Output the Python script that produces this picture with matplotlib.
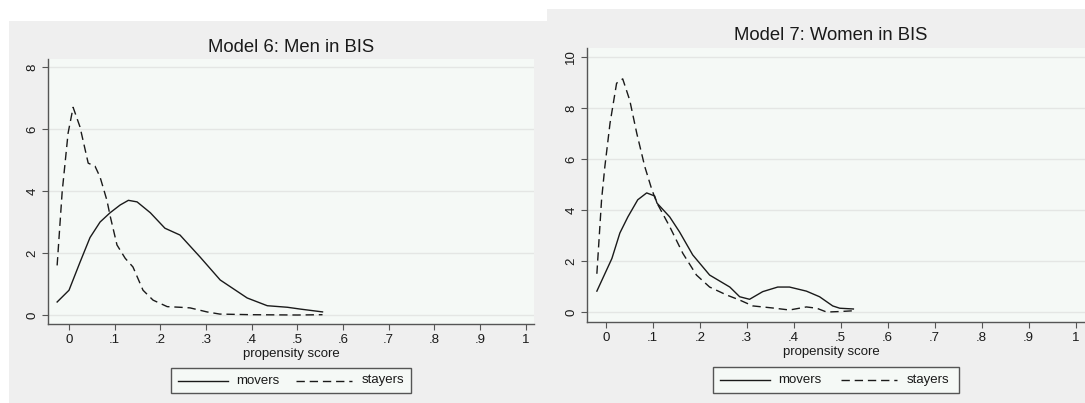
import matplotlib
matplotlib.use("Agg")
import matplotlib.pyplot as plt
from matplotlib.patches import Rectangle
from matplotlib.lines import Line2D

# Kernel density estimates of the propensity score, read as (score, density)
men_movers_x = [-0.026, 0.0, 0.024, 0.046, 0.068, 0.09, 0.112, 0.13, 0.149, 0.178,
                0.21, 0.243, 0.287, 0.331, 0.39, 0.434, 0.478, 0.507, 0.555]
men_movers_y = [0.42, 0.8, 1.7, 2.5, 3.0, 3.3, 3.55, 3.7, 3.65, 3.3,
                2.8, 2.58, 1.87, 1.13, 0.55, 0.3, 0.25, 0.19, 0.1]

men_stayers_x = [-0.026, -0.015, -0.002, 0.009, 0.024, 0.042, 0.057, 0.068, 0.083,
                 0.09, 0.105, 0.123, 0.14, 0.162, 0.184, 0.215, 0.243, 0.265,
                 0.302, 0.33, 0.4, 0.5, 0.555]
men_stayers_y = [1.6, 3.97, 5.87, 6.7, 6.07, 4.9, 4.8, 4.45, 3.7,
                 3.2, 2.26, 1.83, 1.55, 0.8, 0.48, 0.27, 0.25, 0.23,
                 0.1, 0.03, 0.01, 0.0, 0.01]

women_movers_x = [-0.019, 0.013, 0.03, 0.047, 0.068, 0.087, 0.104, 0.109, 0.136,
                  0.157, 0.185, 0.221, 0.264, 0.285, 0.306, 0.334, 0.366, 0.391,
                  0.427, 0.455, 0.483, 0.498, 0.527]
women_movers_y = [0.82, 2.1, 3.1, 3.73, 4.4, 4.67, 4.55, 4.27, 3.73,
                  3.14, 2.24, 1.45, 0.98, 0.6, 0.5, 0.8, 0.98, 0.98,
                  0.82, 0.6, 0.24, 0.15, 0.12]

women_stayers_x = [-0.019, -0.009, -0.002, 0.009, 0.023, 0.036, 0.051, 0.066, 0.083,
                   0.098, 0.109, 0.136, 0.164, 0.193, 0.221, 0.257, 0.285, 0.313,
                   0.355, 0.391, 0.427, 0.449, 0.47, 0.498, 0.527]
women_stayers_y = [1.5, 4.4, 5.7, 7.4, 8.97, 9.14, 8.3, 7.0, 5.7,
                   4.8, 4.27, 3.35, 2.3, 1.45, 0.98, 0.67, 0.47, 0.24,
                   0.16, 0.08, 0.2, 0.15, 0.0, 0.02, 0.05]

x_ticks = [0, 0.1, 0.2, 0.3, 0.4, 0.5, 0.6, 0.7, 0.8, 0.9, 1.0]
x_tick_labels = ["0", ".1", ".2", ".3", ".4", ".5", ".6", ".7", ".8", ".9", "1"]
men_y_ticks = [0, 2, 4, 6, 8]
women_y_ticks = [0, 2, 4, 6, 8, 10]
titles = ["Model 6: Men in BIS", "Model 7: Women in BIS"]
series_labels = ["movers", "stayers"]
x_title = "propensity score"

W, H = 1085, 403
plt.rcParams["font.family"] = ["Liberation Sans", "DejaVu Sans"]

fig = plt.figure(figsize=(W / 100, H / 100), dpi=100)
fig.patch.set_facecolor("white")

PANEL_BG = "#efefef"
PLOT_BG = "#f5f9f6"
GRID = "#e4e6e4"
AXIS = "#555555"
INK = "#1a1a1a"


def fbox(x0, y0, x1, y1):
    """Pixel box (top-left origin) to figure fraction rect."""
    return [x0 / W, 1 - y1 / H, (x1 - x0) / W, (y1 - y0) / H]


# panel backgrounds, kept beneath the axes
for (x0, y0, x1, y1) in [(9, 21, 547, 403), (547, 9, 1085, 403)]:
    r = fbox(x0, y0, x1, y1)
    fig.patches.append(Rectangle((r[0], r[1]), r[2], r[3], transform=fig.transFigure,
                                 facecolor=PANEL_BG, edgecolor="none", zorder=-10))

panels = [
    dict(box=(48, 59, 534, 324), xlim=(-0.046, 1.018), ylim=(-0.29, 8.26),
         yticks=men_y_ticks, title=titles[0], title_y=47, xlab_y=354, xc=291,
         leg=(171, 368, 411, 393),
         mx=men_movers_x, my=men_movers_y, sx=men_stayers_x, sy=men_stayers_y),
    dict(box=(587, 48, 1085, 322), xlim=(-0.04, 1.02), ylim=(-0.39, 10.35),
         yticks=women_y_ticks, title=titles[1], title_y=35, xlab_y=352, xc=831,
         leg=(713, 367, 959, 393),
         mx=women_movers_x, my=women_movers_y, sx=women_stayers_x, sy=women_stayers_y),
]

for p in panels:
    ax = fig.add_axes(fbox(*p["box"]))
    ax.set_facecolor(PLOT_BG)
    ax.set_xlim(*p["xlim"])
    ax.set_ylim(*p["ylim"])
    ax.set_xticks(x_ticks)
    ax.set_xticklabels(x_tick_labels, fontsize=9.5, color=INK)
    ax.set_yticks(p["yticks"])
    ax.set_yticklabels([str(v) for v in p["yticks"]], fontsize=9.5, color=INK,
                       rotation=90, va="center")
    ax.tick_params(axis="both", length=4, width=0.8, color=AXIS, pad=3)
    for s in ["top", "right"]:
        ax.spines[s].set_visible(False)
    for s in ["left", "bottom"]:
        ax.spines[s].set_color(AXIS)
        ax.spines[s].set_linewidth(1.0)
    ax.grid(axis="y", color=GRID, linewidth=1.0)
    ax.set_axisbelow(True)

    ax.plot(p["mx"], p["my"], color=INK, lw=1.0, solid_joinstyle="round")
    ax.plot(p["sx"], p["sy"], color=INK, lw=1.0, linestyle=(0, (6, 3.5)))

    fig.text(p["xc"] / W, 1 - p["title_y"] / H, p["title"], fontsize=13.3,
             color=INK, ha="center", va="center")
    fig.text(p["xc"] / W, 1 - p["xlab_y"] / H, x_title, fontsize=9.5,
             color=INK, ha="center", va="center")

    # legend frame and keys
    lx0, ly0, lx1, ly1 = p["leg"]
    r = fbox(lx0, ly0, lx1, ly1)
    fig.patches.append(Rectangle((r[0], r[1]), r[2], r[3], transform=fig.transFigure,
                                 facecolor=PLOT_BG, edgecolor=AXIS, lw=1.0, zorder=2))
    yc = 1 - ((ly0 + ly1) / 2) / H
    fig.lines.append(Line2D([(lx0 + 7) / W, (lx0 + 57) / W], [yc, yc],
                            transform=fig.transFigure, color=INK, lw=1.0, zorder=3))
    fig.text((lx0 + 65) / W, yc, series_labels[0], fontsize=9.5, color=INK,
             ha="left", va="center", zorder=3)
    sx0 = lx0 + (lx1 - lx0) * 0.52
    fig.lines.append(Line2D([sx0 / W, (sx0 + 56) / W], [yc, yc],
                            transform=fig.transFigure, color=INK, lw=1.0,
                            linestyle=(0, (6, 3.5)), zorder=3))
    fig.text((sx0 + 66) / W, yc, series_labels[1], fontsize=9.5, color=INK,
             ha="left", va="center", zorder=3)

fig.savefig("out.png", dpi=100, facecolor=fig.get_facecolor())
